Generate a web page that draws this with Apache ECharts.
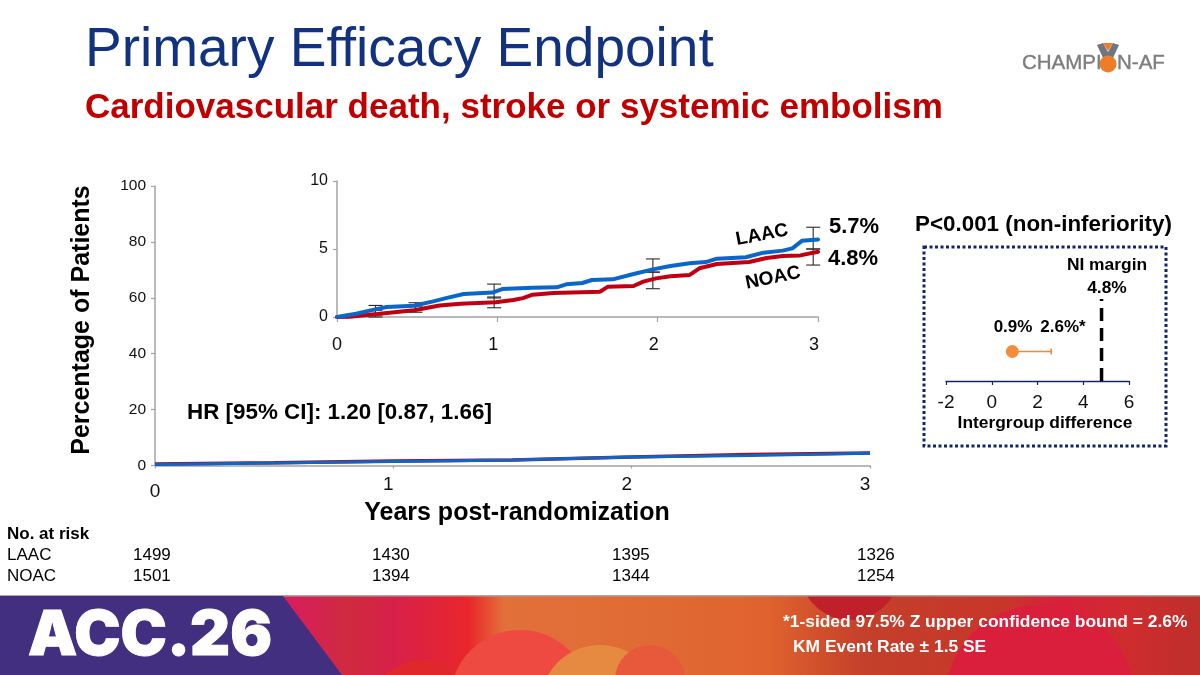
<!DOCTYPE html>
<html>
<head>
<meta charset="utf-8">
<title>Primary Efficacy Endpoint</title>
<script src="https://cdn.jsdelivr.net/npm/echarts@6/dist/echarts.min.js"></script>
<style>
  html, body { margin: 0; padding: 0; background: #fff; }
  #chart { width: 1200px; height: 675px; }
</style>
</head>
<body>
<div id="chart"></div>
<script>
// full 0-100 scale curves
var mainYears = [0, 0.5, 1, 1.5, 2, 2.5, 3]
var mainLaac = [0.4, 0.9, 1.4, 2.0, 3.0, 3.6, 4.4]
var mainNoac = [0.5, 1.0, 1.6, 2.0, 3.0, 3.9, 4.5]

// inset curves, [year, percent]
var insetLaac = [[0, 0], [0.12, 0.24], [0.21, 0.49], [0.31, 0.73], [0.48, 0.83], [0.6, 1.15], [0.68, 1.39], [0.79, 1.69], [0.97, 1.8], [1.03, 2.05], [1.22, 2.15], [1.37, 2.18], [1.43, 2.4], [1.53, 2.5], [1.59, 2.72], [1.72, 2.77], [1.85, 3.16], [1.97, 3.5], [2.08, 3.75], [2.2, 3.95], [2.3, 4.04], [2.37, 4.29], [2.55, 4.39], [2.66, 4.73], [2.78, 4.88], [2.84, 5.05], [2.9, 5.6], [3, 5.7]]
var insetNoac = [[0, 0], [0.08, 0.02], [0.25, 0.22], [0.48, 0.5], [0.64, 0.85], [0.77, 0.98], [0.99, 1.08], [1.1, 1.25], [1.16, 1.39], [1.22, 1.64], [1.35, 1.76], [1.64, 1.86], [1.69, 2.23], [1.85, 2.28], [1.91, 2.6], [1.99, 2.84], [2.08, 3.0], [2.2, 3.09], [2.26, 3.58], [2.37, 3.9], [2.57, 4.04], [2.68, 4.34], [2.78, 4.49], [2.89, 4.53], [3, 4.8]]

// KM rate +/- 1.5 SE
var ciYears = [0.24, 0.49, 0.98, 1.97, 2.97]
var laacLow = [0.15, 0.5, 1.4, 3.3, 5.0]
var laacHigh = [0.85, 1.05, 2.42, 4.27, 6.6]
var noacLow = [0, 0.35, 0.68, 2.08, 3.82]
var noacHigh = [0.5, 0.8, 1.47, 3.3, 5.0]

// intergroup difference panel
var diffPoint = 0.9
var diffUpper = 2.6
var niMargin = 4.8

// number at risk
var riskYears = ['0', '1', '2', '3']
var riskLaac = [1499, 1430, 1395, 1326]
var riskNoac = [1501, 1394, 1344, 1254]
var riskColumnX = [133, 372, 612, 857]

var FONT = '"Liberation Sans", Arial, sans-serif'
var BLUE = '#0b66c9'
var RED = '#c00012'
var AXIS_GREY = '#a3a3a3'

function txt (text, x, y, font, fill, align, rotation, extra) {
  var style = {
    text: text,
    font: font + ' ' + FONT,
    fill: fill || '#000',
    textAlign: align || 'left',
    textVerticalAlign: 'middle'
  }
  for (var k in extra) style[k] = extra[k]
  return { type: 'text', x: x, y: y, rotation: rotation || 0, z: 10, style: style }
}

function circle (cx, cy, r, fill) {
  return { type: 'circle', z: -9, shape: { cx: cx, cy: cy, r: r }, style: { fill: fill } }
}

var shadow = { shadowColor: 'rgba(60,0,0,0.8)', shadowBlur: 2, shadowOffsetX: 1, shadowOffsetY: 1 }

var graphics = [
  // banner
  { type: 'rect', z: -10, shape: { x: 0, y: 596, width: 1200, height: 79 }, style: {
    fill: { type: 'linear', x: 0, y: 0, x2: 1, y2: 0, colorStops: [
      { offset: 0.24, color: '#d81d5e' }, { offset: 0.29, color: '#cf2a3f' }, { offset: 0.33, color: '#d8204a' },
      { offset: 0.39, color: '#e9262a' }, { offset: 0.42, color: '#e2703a' }, { offset: 0.55, color: '#e06a34' },
      { offset: 0.64, color: '#e0622e' }, { offset: 0.72, color: '#c4402a' }, { offset: 0.84, color: '#c8352a' },
      { offset: 0.88, color: '#da1f3c' }, { offset: 0.94, color: '#cf2c2e' }, { offset: 1, color: '#bd2f2a' }
    ] }
  } },
  circle(425, 720, 60, '#e0282c'),
  circle(520, 700, 70, '#ee4a42'),
  circle(600, 705, 60, '#e68a42'),
  circle(650, 680, 35, '#e8583a'),
  circle(850, 570, 50, '#c0202a'),
  circle(1040, 700, 95, '#d91f3c'),
  { type: 'rect', z: -8, shape: { x: 0, y: 0, width: 1200, height: 596 }, style: { fill: '#fff' } },
  { type: 'rect', z: -7, shape: { x: 0, y: 595, width: 1200, height: 1.5 }, style: { fill: '#a8a8a8' } },
  { type: 'polygon', z: -6, shape: { points: [[0, 596], [283, 596], [342, 675], [0, 675]] }, style: { fill: '#432f80' } },
  { type: 'text', x: 28, y: 636, z: 10, style: { text: 'ACC.26', font: '900 62px Inter, Lato, sans-serif', fill: '#fff', stroke: '#fff', lineWidth: 1, textVerticalAlign: 'middle', shadowColor: 'rgba(20,10,60,0.7)', shadowBlur: 5, shadowOffsetY: 2 } },
  txt('*1-sided 97.5% Z upper confidence bound = 2.6%', 783, 622, 'bold 17.4px', '#fff', 'left', 0, shadow),
  txt('KM Event Rate ± 1.5 SE', 793, 647, 'bold 17.4px', '#fff', 'left', 0, shadow),

  // heading
  txt('Primary Efficacy Endpoint', 85, 51, '55px', '#12327f'),
  txt('Cardiovascular death, stroke or systemic embolism', 85, 108, 'bold 35px', '#c00000'),

  // logo
  { type: 'polygon', z: 9, shape: { points: [[1097, 45], [1103, 43], [1108, 52], [1113, 43], [1119, 45], [1112, 60], [1104, 60]] }, style: { fill: '#6f7680' } },
  { type: 'polygon', z: 9, shape: { points: [[1103, 43], [1113, 43], [1108, 51]] }, style: { fill: '#ee7d2a' } },
  { type: 'circle', z: 10, shape: { cx: 1108, cy: 64, r: 8.5 }, style: { fill: '#ee7d2a' } },
  txt('CHAMPI', 1022, 63, '20.5px', '#7d7d7d', 'left', 0, { stroke: '#7d7d7d', lineWidth: 0.4 }),
  txt('N-AF', 1117, 63, '20.5px', '#7d7d7d', 'left', 0, { stroke: '#7d7d7d', lineWidth: 0.4 }),

  // main chart notes
  txt('Percentage of Patients', 82, 320, 'bold 25px', '#000', 'center', Math.PI / 2),
  txt('Years post-randomization', 517, 513, 'bold 25px', '#000', 'center'),
  txt('HR [95% CI]: 1.20 [0.87, 1.66]', 187, 413, 'bold 22.4px'),

  // inset notes
  txt('LAAC', 762, 235, 'bold 19px', '#000', 'center', 0.19),
  txt('NOAC', 773, 278, 'bold 19px', '#000', 'center', 0.2),
  txt('5.7%', 829, 227, 'bold 22px'),
  txt('4.8%', 828, 259, 'bold 22px'),

  // right panel
  txt('P<0.001 (non-inferiority)', 915, 225, 'bold 22.4px'),
  { type: 'rect', z: 5, shape: { x: 924, y: 247, width: 242, height: 199 }, style: { fill: 'none', stroke: '#14246a', lineWidth: 3, lineDash: [3, 2.5] } },
  txt('NI margin', 1107, 265, 'bold 17.4px', '#000', 'center'),
  txt('4.8%', 1107, 288, 'bold 17.4px', '#000', 'center'),
  txt('0.9%', 1013, 327, 'bold 17px', '#000', 'center'),
  txt('2.6%*', 1063, 327, 'bold 17px', '#000', 'center'),
  txt('Intergroup difference', 1045, 423, 'bold 17.4px', '#000', 'center'),

  // at risk table
  txt('No. at risk', 7, 534, 'bold 17px'),
  txt('LAAC', 7, 555, '17px'),
  txt('NOAC', 7, 576, '17px')
]

riskYears.forEach(function (year, i) {
  graphics.push(txt(String(riskLaac[i]), riskColumnX[i], 555, '17px'))
  graphics.push(txt(String(riskNoac[i]), riskColumnX[i], 576, '17px'))
})

function pairs (xs, ys) {
  return xs.map(function (x, i) { return [x, ys[i]] })
}

function renderCi (params, api) {
  var x = api.value(0)
  var top = api.coord([x, api.value(2)])
  var bottom = api.coord([x, api.value(1)])
  var cap = 7
  var style = { stroke: '#2b2b2b', lineWidth: 1.1, fill: 'none' }
  return {
    type: 'group',
    children: [
      { type: 'line', shape: { x1: top[0], y1: top[1], x2: bottom[0], y2: bottom[1] }, style: style },
      { type: 'line', shape: { x1: top[0] - cap, y1: top[1], x2: top[0] + cap, y2: top[1] }, style: style },
      { type: 'line', shape: { x1: bottom[0] - cap, y1: bottom[1], x2: bottom[0] + cap, y2: bottom[1] }, style: style }
    ]
  }
}

function ciData (lows, highs) {
  return ciYears.map(function (y, i) { return [y, lows[i], highs[i]] })
}

function greyAxis () {
  return { show: true, onZero: false, lineStyle: { color: AXIS_GREY, width: 1.5 } }
}

function greyTick (len) {
  return { show: true, length: len, lineStyle: { color: AXIS_GREY, width: 1.2 } }
}

function shiftedLabel (v) {
  return v === 0 ? '{first|0}' : '{rest|' + v + '}'
}

var option = {
  animation: false,
  backgroundColor: '#fff',
  textStyle: { fontFamily: FONT },
  graphic: { elements: graphics },
  grid: [
    { left: 155, top: 186, width: 715, height: 279.5 },
    { left: 337, top: 181, width: 481, height: 136 },
    { left: 946, top: 299, width: 183, height: 82 }
  ],
  xAxis: [
    { gridIndex: 0, type: 'value', min: 0, max: 3, interval: 1, axisLine: greyAxis(), axisTick: greyTick(3), splitLine: { show: false }, axisLabel: { color: '#111', fontSize: 19, margin: 10, formatter: shiftedLabel, rich: { first: { fontSize: 19, color: '#111', padding: [7, 0, 0, 0] }, rest: { fontSize: 19, color: '#111', padding: [0, 10, 0, 0] } } } },
    { gridIndex: 1, type: 'value', min: 0, max: 3, interval: 1, axisLine: greyAxis(), axisTick: greyTick(5), splitLine: { show: false }, axisLabel: { color: '#111', fontSize: 18, margin: 19, formatter: shiftedLabel, rich: { first: { fontSize: 18, color: '#111' }, rest: { fontSize: 18, color: '#111', padding: [0, 8, 0, 0] } } } },
    { gridIndex: 2, type: 'value', min: -2, max: 6, interval: 2, axisLine: { show: true, onZero: false, lineStyle: { color: '#14246a', width: 1.3 } }, axisTick: { show: true, length: 4, lineStyle: { color: '#14246a', width: 1.2 } }, splitLine: { show: false }, axisLabel: { color: '#111', fontSize: 19, margin: 12 } }
  ],
  yAxis: [
    { gridIndex: 0, type: 'value', min: 0, max: 100, interval: 20, axisLine: greyAxis(), axisTick: greyTick(4), splitLine: { show: false }, axisLabel: { color: '#111', fontSize: 15.5, margin: 9 } },
    { gridIndex: 1, type: 'value', min: 0, max: 10, interval: 5, axisLine: greyAxis(), axisTick: greyTick(4), splitLine: { show: false }, axisLabel: { color: '#111', fontSize: 16, margin: 9 } },
    { gridIndex: 2, type: 'value', min: 0, max: 1, show: false }
  ],
  series: [
    { name: 'NOAC', type: 'line', xAxisIndex: 0, yAxisIndex: 0, data: pairs(mainYears, mainNoac), symbol: 'none', lineStyle: { color: RED, width: 3.5 }, z: 3 },
    { name: 'LAAC', type: 'line', xAxisIndex: 0, yAxisIndex: 0, data: pairs(mainYears, mainLaac), symbol: 'none', lineStyle: { color: BLUE, width: 3 }, z: 4 },
    { name: 'NOAC CI', type: 'custom', xAxisIndex: 1, yAxisIndex: 1, renderItem: renderCi, data: ciData(noacLow, noacHigh), encode: { x: 0, y: [1, 2] }, z: 2 },
    { name: 'LAAC CI', type: 'custom', xAxisIndex: 1, yAxisIndex: 1, renderItem: renderCi, data: ciData(laacLow, laacHigh), encode: { x: 0, y: [1, 2] }, z: 2 },
    { name: 'NOAC inset', type: 'line', xAxisIndex: 1, yAxisIndex: 1, data: insetNoac, symbol: 'none', lineStyle: { color: RED, width: 4, cap: 'round' }, z: 3 },
    { name: 'LAAC inset', type: 'line', xAxisIndex: 1, yAxisIndex: 1, data: insetLaac, symbol: 'none', lineStyle: { color: BLUE, width: 4, cap: 'round' }, z: 4 },
    { name: 'NI margin', type: 'line', xAxisIndex: 2, yAxisIndex: 2, data: [[niMargin, 0], [niMargin, 1]], symbol: 'none', lineStyle: { color: '#000', width: 3.5, type: [13, 7] }, z: 3 },
    { name: 'Upper bound', type: 'line', xAxisIndex: 2, yAxisIndex: 2, data: [[diffPoint, 0.36], [diffUpper, 0.36]], symbol: 'none', lineStyle: { color: '#f0873a', width: 1.6 }, z: 3 },
    { name: 'Upper cap', type: 'scatter', xAxisIndex: 2, yAxisIndex: 2, data: [[diffUpper, 0.36]], symbol: 'rect', symbolSize: [1.6, 6], itemStyle: { color: '#f0873a', opacity: 1 }, z: 3 },
    { name: 'Difference', type: 'scatter', xAxisIndex: 2, yAxisIndex: 2, data: [[diffPoint, 0.36]], symbol: 'circle', symbolSize: 13, itemStyle: { color: '#f58b3d', opacity: 1 }, z: 4 }
  ]
}

var chart = echarts.init(document.getElementById('chart'), null, { renderer: 'canvas' })
chart.setOption(option)
</script>
</body>
</html>
